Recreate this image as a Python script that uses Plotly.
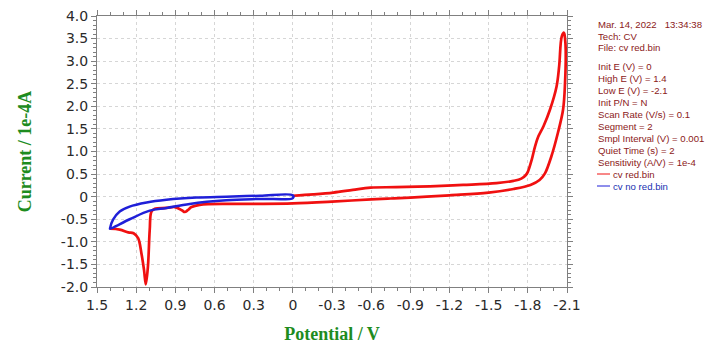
import plotly.graph_objects as go

# Red curve (cv red.bin): potential (V) and current (1e-4 A)
red_E = [0.0, -0.156, -0.31, -0.46, -0.595, -0.79, -1.05, -1.305, -1.56, -1.69, -1.75, -1.785, -1.80,
         -1.83, -1.855, -1.88, -1.92, -1.97, -2.02, -2.04, -2.06, -2.077,
         -2.085, -2.09, -2.085, -2.07, -2.03, -1.98, -1.93,
         -1.89, -1.82, -1.69, -1.5, -1.2, -0.9, -0.6, -0.3, 0.0,
         0.25, 0.48, 0.713, 0.776, 0.805, 0.828, 0.85, 0.904, 0.968, 1.057, 1.083, 1.096,
         1.11, 1.126, 1.14, 1.16, 1.185, 1.22, 1.26, 1.326, 1.40]
red_I = [0.02, 0.05, 0.09, 0.15, 0.20, 0.21, 0.23, 0.26, 0.30, 0.35, 0.40, 0.48, 0.55,
         0.82, 1.11, 1.33, 1.56, 1.93, 2.44, 2.89, 3.55, 3.63,
         3.50, 3.26, 2.52, 1.93, 1.41, 0.89, 0.51,
         0.37, 0.26, 0.17, 0.09, 0.03, -0.02, -0.06, -0.11, -0.15,
         -0.16, -0.16, -0.18, -0.23, -0.30, -0.34, -0.30, -0.23, -0.25, -0.27, -0.33, -0.73,
         -1.55, -1.94, -1.62, -1.25, -0.92, -0.81, -0.79, -0.73, -0.71]

# Blue curve (cv no red.bin)
blue_E = [0.0, 0.25, 0.51, 0.74, 0.968, 1.12, 1.25, 1.326, 1.377, 1.40,
          1.40, 1.25, 1.096, 0.968, 0.79, 0.51, 0.25, 0.0, 0.0]
blue_I = [0.03, 0.02, 0.0, -0.02, -0.07, -0.13, -0.22, -0.33, -0.51, -0.70,
          -0.71, -0.50, -0.31, -0.25, -0.16, -0.08, -0.05, -0.03, 0.03]

x_ticks = [1.5, 1.2, 0.9, 0.6, 0.3, 0, -0.3, -0.6, -0.9, -1.2, -1.5, -1.8, -2.1]
x_labels = ["1.5", "1.2", "0.9", "0.6", "0.3", "0", "-0.3", "-0.6", "-0.9", "-1.2", "-1.5", "-1.8", "-2.1"]
y_ticks = [4.0, 3.5, 3.0, 2.5, 2.0, 1.5, 1.0, 0.5, 0, -0.5, -1.0, -1.5, -2.0]
y_labels = ["4.0", "3.5", "3.0", "2.5", "2.0", "1.5", "1.0", "0.5", "0", "-0.5", "-1.0", "-1.5", "-2.0"]

info_lines = ["Mar. 14, 2022   13:34:38", "Tech: CV", "File: cv red.bin", "",
              "Init E (V) = 0", "High E (V) = 1.4", "Low E (V) = -2.1", "Init P/N = N",
              "Scan Rate (V/s) = 0.1", "Segment = 2", "Smpl Interval (V) = 0.001",
              "Quiet Time (s) = 2", "Sensitivity (A/V) = 1e-4"]
legend_names = ["cv red.bin", "cv no red.bin"]

fig = go.Figure()
fig.add_trace(go.Scatter(x=red_E, y=red_I, mode="lines", line=dict(color="#f01010", width=2.7),
                         line_shape="spline", name=legend_names[0]))
fig.add_trace(go.Scatter(x=blue_E, y=blue_I, mode="lines", line=dict(color="#1f1fd8", width=2.5),
                         line_shape="spline", name=legend_names[1]))

axis_common = dict(showline=True, linecolor="#808080", linewidth=1, mirror="allticks",
                   ticks="outside", ticklen=5, tickcolor="#808080",
                   showgrid=True, gridcolor="#d6d6d6", griddash="dot", gridwidth=1,
                   zeroline=False, automargin=False,
                   tickfont=dict(family="DejaVu Sans", size=14, color="#2a2a2a"))

fig.update_xaxes(range=[1.5, -2.1], tickvals=x_ticks, ticktext=x_labels,
                 minor=dict(dtick=0.1, tick0=0, ticks="outside", ticklen=3, tickcolor="#808080", showgrid=False),
                 title=dict(text="Potential / V", standoff=20,
                            font=dict(family="Liberation Serif, Times New Roman", size=18, color="#1e8c1e", weight="bold")),
                 **axis_common)
fig.update_yaxes(range=[-2.0, 4.0], tickvals=y_ticks, ticktext=y_labels,
                 minor=dict(dtick=0.1, tick0=0, ticks="outside", ticklen=3, tickcolor="#808080", showgrid=False),
                 title=dict(text="Current / 1e-4A", standoff=24,
                            font=dict(family="Liberation Serif, Times New Roman", size=18, color="#1e8c1e", weight="bold")),
                 **axis_common)

L, R, T, B = 97, 143, 16, 57
W, H = 710, 344
plot_w = W - L - R
plot_h = H - T - B


def px_to_paper(px, py):
    return (px - L) / plot_w, 1 - (py - T) / plot_h


ann = []
y0 = 24
step = 12
row = 0
for t in info_lines:
    if t == "":
        row += 0.55
        continue
    ax, ay = px_to_paper(597, y0 + row * step)
    ann.append(dict(x=ax, y=ay, xref="paper", yref="paper", text=t, showarrow=False,
                    xanchor="left", yanchor="middle", borderpad=0,
                    font=dict(family="Liberation Sans, Arial", size=9.6, color="#8b2020")))
    row += 1

fig.update_layout(
    width=W, height=H,
    margin=dict(l=L, r=R, t=T, b=B, autoexpand=False),
    paper_bgcolor="white", plot_bgcolor="white",
    showlegend=False,
    annotations=ann,
)

leg_colors = ["#f01010", "#1f1fd8"]
leg_text_colors = ["#8b2020", "#2030b0"]
for i, name in enumerate(legend_names):
    py = 174 + i * 12
    x0, yy = px_to_paper(597, py)
    x1, _ = px_to_paper(610, py)
    xt, _ = px_to_paper(612, py)
    fig.add_shape(type="line", xref="paper", yref="paper", x0=x0, x1=x1, y0=yy, y1=yy,
                  line=dict(color=leg_colors[i], width=1))
    fig.add_annotation(x=xt, y=yy, xref="paper", yref="paper", text=name, borderpad=0,
                       showarrow=False, xanchor="left", yanchor="middle",
                       font=dict(family="Liberation Sans, Arial", size=9.6, color=leg_text_colors[i]))

fig.write_html("out.html", config={"displayModeBar": False},
               post_script="document.body.style.margin='0';document.body.style.overflow='hidden';")
